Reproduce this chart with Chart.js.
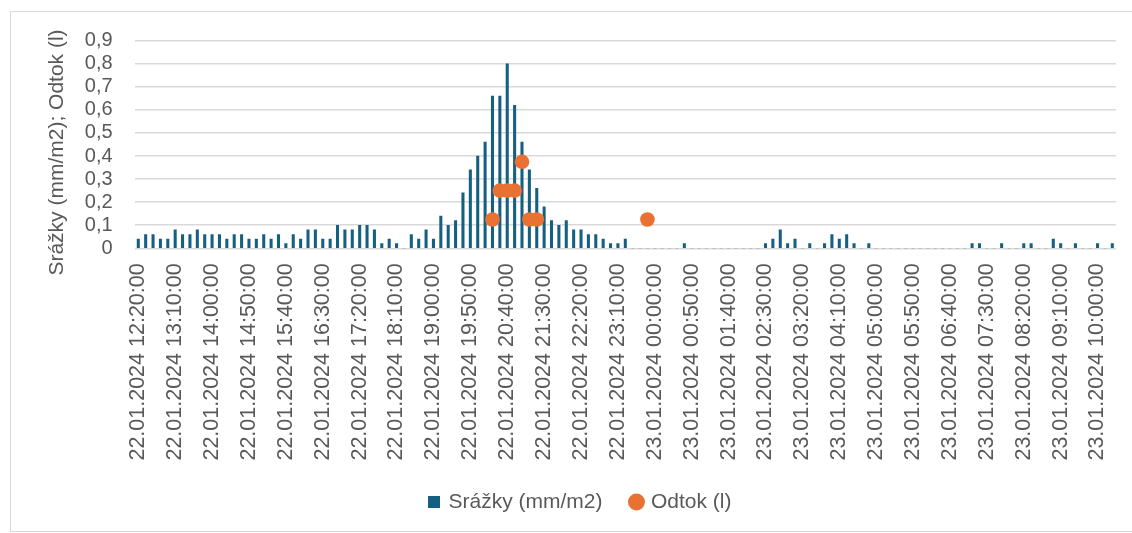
<!DOCTYPE html>
<html>
<head>
<meta charset="utf-8">
<title>Srážky a odtok</title>
<script src="https://cdn.jsdelivr.net/npm/chart.js@4.4.1/dist/chart.umd.min.js"></script>
<style>
  html, body { margin: 0; padding: 0; background: #ffffff; overflow: hidden; }
  #wrap { position: relative; width: 1132px; height: 533px; overflow: hidden; }
  #frame { position: absolute; left: 10px; top: 11px; width: 1200px; height: 521px;
           border: 1px solid #d9d9d9; box-sizing: border-box; }
  #c { position: absolute; left: 0; top: 0; }
</style>
</head>
<body>
<div id="wrap">
  <div id="frame"></div>
  <canvas id="c" width="1132" height="533"></canvas>
</div>
<script>
// 10-minute measurement intervals
const categories = [
  '22.01.2024 12:20:00','22.01.2024 12:30:00','22.01.2024 12:40:00','22.01.2024 12:50:00',
  '22.01.2024 13:00:00','22.01.2024 13:10:00','22.01.2024 13:20:00','22.01.2024 13:30:00','22.01.2024 13:40:00','22.01.2024 13:50:00',
  '22.01.2024 14:00:00','22.01.2024 14:10:00','22.01.2024 14:20:00','22.01.2024 14:30:00','22.01.2024 14:40:00','22.01.2024 14:50:00',
  '22.01.2024 15:00:00','22.01.2024 15:10:00','22.01.2024 15:20:00','22.01.2024 15:30:00','22.01.2024 15:40:00','22.01.2024 15:50:00',
  '22.01.2024 16:00:00','22.01.2024 16:10:00','22.01.2024 16:20:00','22.01.2024 16:30:00','22.01.2024 16:40:00','22.01.2024 16:50:00',
  '22.01.2024 17:00:00','22.01.2024 17:10:00','22.01.2024 17:20:00','22.01.2024 17:30:00','22.01.2024 17:40:00','22.01.2024 17:50:00',
  '22.01.2024 18:00:00','22.01.2024 18:10:00','22.01.2024 18:20:00','22.01.2024 18:30:00','22.01.2024 18:40:00','22.01.2024 18:50:00',
  '22.01.2024 19:00:00','22.01.2024 19:10:00','22.01.2024 19:20:00','22.01.2024 19:30:00','22.01.2024 19:40:00','22.01.2024 19:50:00',
  '22.01.2024 20:00:00','22.01.2024 20:10:00','22.01.2024 20:20:00','22.01.2024 20:30:00','22.01.2024 20:40:00','22.01.2024 20:50:00',
  '22.01.2024 21:00:00','22.01.2024 21:10:00','22.01.2024 21:20:00','22.01.2024 21:30:00','22.01.2024 21:40:00','22.01.2024 21:50:00',
  '22.01.2024 22:00:00','22.01.2024 22:10:00','22.01.2024 22:20:00','22.01.2024 22:30:00','22.01.2024 22:40:00','22.01.2024 22:50:00',
  '22.01.2024 23:00:00','22.01.2024 23:10:00','22.01.2024 23:20:00','22.01.2024 23:30:00','22.01.2024 23:40:00','22.01.2024 23:50:00',
  '23.01.2024 00:00:00','23.01.2024 00:10:00','23.01.2024 00:20:00','23.01.2024 00:30:00','23.01.2024 00:40:00','23.01.2024 00:50:00',
  '23.01.2024 01:00:00','23.01.2024 01:10:00','23.01.2024 01:20:00','23.01.2024 01:30:00','23.01.2024 01:40:00','23.01.2024 01:50:00',
  '23.01.2024 02:00:00','23.01.2024 02:10:00','23.01.2024 02:20:00','23.01.2024 02:30:00','23.01.2024 02:40:00','23.01.2024 02:50:00',
  '23.01.2024 03:00:00','23.01.2024 03:10:00','23.01.2024 03:20:00','23.01.2024 03:30:00','23.01.2024 03:40:00','23.01.2024 03:50:00',
  '23.01.2024 04:00:00','23.01.2024 04:10:00','23.01.2024 04:20:00','23.01.2024 04:30:00','23.01.2024 04:40:00','23.01.2024 04:50:00',
  '23.01.2024 05:00:00','23.01.2024 05:10:00','23.01.2024 05:20:00','23.01.2024 05:30:00','23.01.2024 05:40:00','23.01.2024 05:50:00',
  '23.01.2024 06:00:00','23.01.2024 06:10:00','23.01.2024 06:20:00','23.01.2024 06:30:00','23.01.2024 06:40:00','23.01.2024 06:50:00',
  '23.01.2024 07:00:00','23.01.2024 07:10:00','23.01.2024 07:20:00','23.01.2024 07:30:00','23.01.2024 07:40:00','23.01.2024 07:50:00',
  '23.01.2024 08:00:00','23.01.2024 08:10:00','23.01.2024 08:20:00','23.01.2024 08:30:00','23.01.2024 08:40:00','23.01.2024 08:50:00',
  '23.01.2024 09:00:00','23.01.2024 09:10:00','23.01.2024 09:20:00','23.01.2024 09:30:00','23.01.2024 09:40:00','23.01.2024 09:50:00',
  '23.01.2024 10:00:00','23.01.2024 10:10:00','23.01.2024 10:20:00'
];

// Precipitation per interval (mm/m2)
const srazky = [
  0.04, 0.06, 0.06, 0.04, 0.04, 0.08, 0.06, 0.06, 0.08, 0.06,
  0.06, 0.06, 0.04, 0.06, 0.06, 0.04, 0.04, 0.06, 0.04, 0.06,
  0.02, 0.06, 0.04, 0.08, 0.08, 0.04, 0.04, 0.10, 0.08, 0.08,
  0.10, 0.10, 0.08, 0.02, 0.04, 0.02, 0,    0.06, 0.04, 0.08,
  0.04, 0.14, 0.10, 0.12, 0.24, 0.34, 0.40, 0.46, 0.66, 0.66,
  0.80, 0.62, 0.46, 0.34, 0.26, 0.18, 0.12, 0.10, 0.12, 0.08,
  0.08, 0.06, 0.06, 0.04, 0.02, 0.02, 0.04, 0,    0,    0,
  0,    0,    0,    0,    0.02, 0,    0,    0,    0,    0,
  0,    0,    0,    0,    0,    0.02, 0.04, 0.08, 0.02, 0.04,
  0,    0.02, 0,    0.02, 0.06, 0.04, 0.06, 0.02, 0,    0.02,
  0,    0,    0,    0,    0,    0,    0,    0,    0,    0,
  0,    0,    0,    0.02, 0.02, 0,    0,    0.02, 0,    0,
  0.02, 0.02, 0,    0,    0.04, 0.02, 0,    0.02, 0,    0,
  0.02, 0,    0.02
];

// Runoff readings (l) and the intervals they belong to
const odtokTimes = [
  '22.01.2024 20:20:00', '22.01.2024 20:30:00', '22.01.2024 20:40:00', '22.01.2024 20:50:00',
  '22.01.2024 21:00:00', '22.01.2024 21:10:00', '22.01.2024 21:20:00', '22.01.2024 23:50:00'
];
const odtokValues = [0.125, 0.25, 0.25, 0.25, 0.375, 0.125, 0.125, 0.125];

const yAxisTitle = 'Srážky (mm/m2); Odtok (l)';

const TEXT = '#595959';
const GRID = '#d9d9d9';
const FONT = "'Liberation Sans', Arial, sans-serif";
Chart.defaults.font.family = FONT;
Chart.defaults.color = TEXT;

// Vertical value-axis caption, centred a little below the plot's middle
const axisCaption = {
  id: 'axisCaption',
  afterDraw(chart) {
    const ctx = chart.ctx;
    ctx.save();
    ctx.translate(57.5, 152.5);
    ctx.rotate(-Math.PI / 2);
    ctx.font = '21px ' + FONT;
    ctx.fillStyle = TEXT;
    ctx.textAlign = 'center';
    ctx.textBaseline = 'middle';
    ctx.fillText(yAxisTitle, 0, 0);
    ctx.restore();
  }
};

new Chart(document.getElementById('c'), {
  type: 'bar',
  data: {
    labels: categories,
    datasets: [
      {
        type: 'bar',
        label: 'Srážky (mm/m2)',
        data: srazky,
        backgroundColor: '#156082',
        borderWidth: 0,
        barThickness: 2.4,
        pointStyle: 'rect',
        order: 2
      },
      {
        type: 'line',
        label: 'Odtok (l)',
        data: odtokTimes.map((t, i) => ({ x: t, y: odtokValues[i] })),
        showLine: false,
        pointStyle: 'circle',
        pointRadius: 7.3,
        pointHoverRadius: 7.3,
        pointBorderWidth: 0,
        pointBackgroundColor: '#E97132',
        backgroundColor: '#E97132',
        borderColor: '#E97132',
        order: 1
      }
    ]
  },
  plugins: [axisCaption],
  options: {
    responsive: false,
    animation: false,
    devicePixelRatio: 1,
    events: [],
    layout: { padding: { left: 45.5, right: 16, top: 40.7, bottom: 10.5 } },
    scales: {
      x: {
        grid: { display: false, drawTicks: false },
        border: { display: false },
        ticks: {
          autoSkip: false,
          minRotation: 90,
          maxRotation: 90,
          padding: 15,
          color: TEXT,
          font: { size: 21.5 },
          callback: (v, i) => (i % 5 === 0 ? categories[i] : null)
        },
        afterFit: (s) => { s.height = 213.2; s.paddingLeft = 0; s.paddingRight = 0; }
      },
      y: {
        min: 0,
        max: 0.9,
        grid: { color: GRID, lineWidth: 1.5, drawTicks: false },
        border: { display: false },
        ticks: {
          stepSize: 0.1,
          autoSkip: false,
          padding: 22,
          color: TEXT,
          font: { size: 20 },
          callback: (v) => (v === 0 ? '0' : v.toFixed(1).replace('.', ','))
        },
        afterFit: (s) => { s.width = 89.1; }
      }
    },
    plugins: {
      legend: {
        position: 'bottom',
        labels: {
          usePointStyle: true,
          boxWidth: 8,
          boxHeight: 12,
          padding: 30,
          color: TEXT,
          font: { size: 21 },
          sort: (a, b) => a.datasetIndex - b.datasetIndex
        }
      },
      tooltip: { enabled: false }
    }
  }
});
</script>
</body>
</html>
